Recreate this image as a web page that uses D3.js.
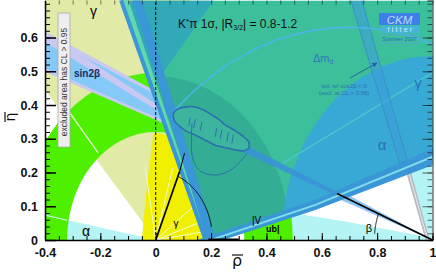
<!DOCTYPE html>
<html><head><meta charset="utf-8">
<script src="https://cdn.jsdelivr.net/npm/d3@7/dist/d3.min.js"></script>
<style>html,body{margin:0;padding:0;background:#fff}svg{display:block}</style>
</head><body>
<svg id="chart" width="436" height="273"></svg>
<script>
// ---------------- axes ----------------
const xDomain = [-0.4, 1.0];
const yDomain = [0, 0.71];
const xTickValues = [-0.4, -0.2, 0, 0.2, 0.4, 0.6, 0.8, 1];
const xTickLabels = ["-0.4", "-0.2", "0", "0.2", "0.4", "0.6", "0.8", "1"];
const yTickValues = [0, 0.1, 0.2, 0.3, 0.4, 0.5, 0.6];
const yTickLabels = ["0", "0.1", "0.2", "0.3", "0.4", "0.5", "0.6"];

// ---------------- constraints (rho-bar, eta-bar) ----------------
const gammaWedgeDeg = [80, 132];
const alphaLeftWedgeDeg = [169.5, 180];
const alphaRightRegion = [[0.45,0],[1,0],[1,0.33],[0.45,0.33]];
const alphaRightHole = [[0.5,0.079],[0.905,0.215],[0.985,0.008],[0.69,0.054]];
const vubRingR = [0.32, 0.495];
const epsKRegion = [[-0.05,0],[-0.032,0.158],[-0.008,0.318],[0.07,0.31],[0.21,0]];
const sin2bOuterDeg = [19.6, 23.8];
const sin2bInnerDeg = [20.0, 23.3];
const sin2bCoreDeg = [20.8, 22.6];
const lavenderStripe = [[-0.4,0.617],[0.05,0.377],[0.05,0.362],[-0.4,0.586]];
const kpiEdgeLine = [[-0.125,0.71],[0.18,0]];
const kpiLightStripe = [[-0.125,0.71],[-0.098,0.71],[0.19,0],[0.18,0]];
const kpiThickBand = [[-0.083,0.71],[-0.05,0.71],[0.217,0],[0.185,0]];
const risingUpper = [[0.15,0],[0.577,0.119],[1.02,0.278]];
const risingLower = [[1.02,0.228],[0.577,0.089],[0.243,0]];
const risingMid = [[0.2,0],[0.577,0.104],[1.02,0.253]];
const kpiWedge = [[0.18,0],[-0.125,0.71],[1.05,0.71],[1.05,0.26],[0.577,0.104],[0.2,0]];
const kpiTopLeft = [[-0.125,0.71],[0.21,0.71],[0.016,0.484],[-0.028,0.484]];
const darkDiskR = 0.485;
const blueCircleC = [1, 0];
const blueCircleR = 0.545;
const gammaLine = [[0.43,0.213],[1.0,0.496]];
const rightBand = [[0.705,0.71],[0.745,0.71],[0.99,0],[0.965,0]];
const grayBand = [[0.9,0.215],[0.918,0.215],[0.99,0],[0.975,0]];
const dmdArcC = [0.70, -0.30];
const dmdArcR = 0.93;
const dmdArcDeg = [133, 55];
const fitContour = [[0.064,0.375],[0.077,0.387],[0.100,0.393],[0.137,0.395],[0.173,0.385],[0.203,0.370],
  [0.227,0.358],[0.251,0.341],[0.287,0.324],[0.317,0.306],[0.336,0.291],[0.336,0.272],[0.317,0.264],
  [0.287,0.267],[0.245,0.275],[0.215,0.281],[0.191,0.291],[0.167,0.301],[0.143,0.311],[0.113,0.321],
  [0.088,0.336],[0.070,0.350],[0.064,0.365]];
const fitHatchX = [0.125,0.143,0.167,0.221,0.239,0.263,0.281];
const fitArc = [[0.131,0.346],[0.125,0.237],[0.161,0.198],[0.221,0.188],[0.281,0.207],[0.330,0.257]];
const triangleLeft = [[0,0],[0.086,0.202]];
const triangleLeftThin = [[0.086,0.202],[0.104,0.257]];
const triangleRight = [[1,0],[0.655,0.138]];
const alphaLinesDeg = [8, 18, 36, 74, 100];
const angleArcR = 0.205, angleArcDeg = [67, 11];
const betaArcR = 0.21, betaArcDeg = [158, 175];
const alphaEdgeLine = [[-0.4,0.0735],[-0.32,0.0585]];
const gammaEdgeLine = [[-0.317,0.385],[-0.208,0.258]];

// ---------------- setup ----------------
const svg = d3.select("#chart");
const L = 45, R = 432.5, T = 0.4, B = 240;
const x = d3.scaleLinear().domain(xDomain).range([L, R]);
const y = d3.scaleLinear().domain(yDomain).range([B, T]);
const line = d3.line().x(d => x(d[0])).y(d => y(d[1]));
const rad = Math.PI / 180;
function arcPts(c, r, a0, a1, n = 120) {
  const p = [];
  for (let i = 0; i <= n; i++) { const t = (a0 + (a1 - a0) * i / n) * rad; p.push([c[0] + r * Math.cos(t), c[1] + r * Math.sin(t)]); }
  return p;
}
function wedge(c, a0, a1, Rr = 3) { return [c, ...arcPts(c, Rr, a0, a1)]; }
function ring(c, r0, r1, a0, a1) { return [...arcPts(c, r1, a0, a1), ...arcPts(c, r0, a1, a0)]; }

const defs = svg.append("defs");
defs.append("clipPath").attr("id", "plot").append("rect").attr("x", L).attr("y", 0).attr("width", R - L).attr("height", B);
defs.append("clipPath").attr("id", "kpi").append("path").attr("d", line(kpiWedge) + "Z");
const mk = defs.append("marker").attr("id", "arr").attr("viewBox", "0 0 10 10").attr("refX", 9).attr("refY", 5)
  .attr("markerWidth", 5).attr("markerHeight", 5).attr("orient", "auto");
mk.append("path").attr("d", "M0,0L10,5L0,10Z").attr("fill", "#2a5fa0");

svg.append("rect").attr("width", 436).attr("height", 273).attr("fill", "#fff");
const g = svg.append("g").attr("clip-path", "url(#plot)");
function poly(parent, pts, fill, op = 1) { return parent.append("path").attr("d", line(pts) + "Z").attr("fill", fill).attr("fill-opacity", op); }
function stroke(parent, pts, col, w, extra) { const p = parent.append("path").attr("d", line(pts)).attr("fill", "none").attr("stroke", col).attr("stroke-width", w); if (extra) extra(p); return p; }

// base regions
poly(g, wedge([0,0], gammaWedgeDeg[0], gammaWedgeDeg[1]), "#e1eaa6");
poly(g, wedge([0,0], alphaLeftWedgeDeg[0], alphaLeftWedgeDeg[1]), "#b4f4f4");
poly(g, alphaRightRegion, "#b4f4f4");
poly(g, alphaRightHole, "#ffffff");
poly(g, grayBand, "#b8bcc2");
stroke(g, [[0.909,0.215],[0.983,0]], "#e8eaec", 1);
poly(g, ring([0,0], vubRingR[0], vubRingR[1], 0, 180), "#4ef000");
poly(g, epsKRegion, "#f0f000");
alphaLinesDeg.forEach(a => stroke(g, [[0,0], [0.22*Math.cos(a*rad), 0.22*Math.sin(a*rad)]], "#eefcf4", 0.9));
stroke(g, alphaEdgeLine, "#c8f8f4", 1.2);
stroke(g, gammaEdgeLine, "#f4f8e0", 1.2);

// sin2beta band
poly(g, wedge([1,0], 180 - sin2bOuterDeg[1], 180 - sin2bOuterDeg[0]), "#c8c8f0");
poly(g, wedge([1,0], 180 - sin2bInnerDeg[1], 180 - sin2bInnerDeg[0]), "#84c9f8");
poly(g, lavenderStripe, "#c8c8f0");

// K*pi overlay region
const k = g.append("g").attr("clip-path", "url(#kpi)");
poly(k, kpiWedge, "#3cc09c");
poly(k, kpiTopLeft, "#31a9b6");
poly(k, arcPts([0,0], darkDiskR, 0, 180).concat([[0,0]]), "#33ad93");
poly(k, arcPts(blueCircleC, blueCircleR, 0, 180), "#38a8d4");
stroke(k, gammaLine, "#4cc4cc", 1.6);
poly(k, wedge([1,0], 180 - sin2bCoreDeg[1], 180 - sin2bCoreDeg[0]), "#3a92d6", 0.9);
poly(k, rightBand, "#3d9fd8", 0.6);
stroke(k, [rightBand[0], rightBand[3]], "#3590c8", 1);
stroke(k, [rightBand[1], rightBand[2]], "#3590c8", 1);

// bands bounding the overlay
poly(g, kpiLightStripe, "#62d6ae");
stroke(g, kpiEdgeLine, "#3a96d6", 4);
poly(g, kpiThickBand, "#3a96d6");
poly(g, risingUpper.concat(risingLower), "#3a96d6");
stroke(g, risingMid, "#80dce6", 2);

// dm_d arc
stroke(g, arcPts(dmdArcC, dmdArcR, dmdArcDeg[0], dmdArcDeg[1]), "#4cb4e8", 1.6);

// fit contour
g.append("path").attr("d", d3.line().x(d => x(d[0])).y(d => y(d[1])).curve(d3.curveCardinalClosed.tension(0.3))(fitContour))
  .attr("fill", "#3db59e").attr("stroke", "#2d6fb0").attr("stroke-width", 1.6);
fitHatchX.forEach(v => {
  const yc = 0.372 - (v - 0.064) * 0.33;
  stroke(g, [[v, yc + 0.012], [v - 0.006, yc - 0.014]], "#2d6fb0", 1);
});
stroke(g, fitArc, "#2d6fb0", 1, p => p.attr("d", d3.line().x(d => x(d[0])).y(d => y(d[1])).curve(d3.curveBasis)(fitArc)));

// unitarity triangle pieces
stroke(g, triangleLeft, "#000", 1.7);
stroke(g, triangleLeftThin, "#000", 1);
stroke(g, triangleRight, "#000", 1.7);
stroke(g, arcPts([0,0], angleArcR, angleArcDeg[0], angleArcDeg[1]), "#000", 1);
stroke(g, arcPts([1,0], betaArcR, betaArcDeg[0], betaArcDeg[1]), "#000", 1);
// rho = 0 dashed line
stroke(g, [[0,0],[0,0.71]], "#000", 1, p => p.attr("stroke-dasharray", "3,2"));
// thick base segment
stroke(g, [[0.19,0],[0.3,0]], "#000", 3);

// ---------------- labels ----------------
const txt = (xx, yy, s, o = {}) => svg.append("text").attr("x", xx).attr("y", yy).text(s)
  .attr("font-family", o.ff || "Liberation Sans, Arial, sans-serif").attr("font-size", o.fs || 12)
  .attr("font-weight", o.fw || "normal").attr("fill", o.fill || "#000").attr("text-anchor", o.anchor || "start");

txt(93.5, 16, "γ", {fs: 14, anchor: "middle"});
txt(74, 77, "sin2β", {fs: 10, fw: "bold", fill: "#1a2a60"});
txt(86, 236, "α", {fs: 14, anchor: "middle"});
txt(176, 227, "γ", {fs: 10, anchor: "middle"});
txt(369, 232, "β", {fs: 11, anchor: "middle"});
txt(382, 150, "α", {fs: 15, anchor: "middle", fill: "#2a6fb5"});
txt(418, 88, "γ", {fs: 14, anchor: "middle", fill: "#2a6fb5"});
const dm = txt(313, 62, "Δm", {fs: 11, fill: "#3274bc"});
dm.append("tspan").attr("font-size", 7).attr("dy", 2).text("d");
const vub = txt(252, 224, "|V", {fs: 10});
vub.append("tspan").attr("font-size", 9).attr("font-weight", "bold").attr("x", 266).attr("y", 232).text("ub|");

const kp = svg.append("text").attr("x", 178).attr("y", 28).attr("font-family", "Liberation Sans Narrow, Arial Narrow, Liberation Sans, sans-serif")
  .attr("font-size", 12).attr("fill", "#111");
kp.append("tspan").text("K");
kp.append("tspan").attr("font-size", 8).attr("dy", -4).text("*");
kp.append("tspan").attr("dy", 4).text("π 1σ,  |R");
kp.append("tspan").attr("font-size", 7).attr("dy", 2).text("3/2");
kp.append("tspan").attr("dy", -2).text("| = 0.8-1.2");

txt(344, 88, "sol. w/ cos2β < 0", {fs: 6, anchor: "middle", fill: "#2f6fb0"});
txt(344, 95, "(excl. at CL > 0.95)", {fs: 6, anchor: "middle", fill: "#2f6fb0"});
svg.append("line").attr("x1", 350).attr("y1", 78).attr("x2", 377).attr("y2", 63).attr("stroke", "#2a5fa0").attr("stroke-width", 1).attr("marker-end", "url(#arr)");

// CKMfitter logo
svg.append("rect").attr("x", 379).attr("y", 13).attr("width", 41).attr("height", 12).attr("fill", "#3c7fe6");
txt(399.5, 23.5, "CKM", {fs: 11.5, anchor: "middle", fill: "#c2d8ff", ff: "Liberation Sans Narrow, Liberation Sans, sans-serif"}).attr("font-style", "italic");
svg.append("rect").attr("x", 381).attr("y", 26).attr("width", 39).attr("height", 7).attr("fill", "#44b4d8");
txt(401, 32.2, "fitter", {fs: 7, anchor: "middle", fill: "#d0ecf6"}).attr("letter-spacing", 2.2);
svg.append("rect").attr("x", 379).attr("y", 35).attr("width", 41).attr("height", 8).attr("fill", "none").attr("stroke", "#5aa4dc").attr("stroke-width", 0.8);
txt(399.5, 41.3, "Summer 2007", {fs: 5.5, anchor: "middle", fill: "#2a66b6"});

// excluded-area box
svg.append("rect").attr("x", 58).attr("y", 13).attr("width", 12).attr("height", 134).attr("fill", "#eeeeee").attr("stroke", "#a8a8a8").attr("stroke-width", 0.8);
svg.append("text").attr("transform", "translate(66.8,82) rotate(-90)").attr("text-anchor", "middle")
  .attr("font-family", "Liberation Sans, Arial, sans-serif").attr("font-size", 8.5).attr("fill", "#333").text("excluded area has CL > 0.95");

// ---------------- axes ----------------
const fontAx = "Liberation Sans Narrow, Arial Narrow, Liberation Sans, sans-serif";
const gx = svg.append("g").attr("transform", `translate(0,${B})`)
  .call(d3.axisBottom(x).tickValues(xTickValues).tickFormat((d, i) => xTickLabels[i]).tickSizeInner(-7).tickSizeOuter(0).tickPadding(8));
gx.selectAll("text").attr("font-family", fontAx).attr("font-size", 12.5).attr("font-weight", "bold").attr("fill", "#111");
gx.select(".domain").attr("stroke", "#000").attr("stroke-width", 1.5);
gx.selectAll(".tick line").attr("stroke", "#000");
svg.append("g").attr("transform", `translate(0,${B})`)
  .call(d3.axisBottom(x).tickValues(d3.range(-0.4, 1.0001, 0.05)).tickFormat("").tickSize(-4))
  .call(s => s.select(".domain").remove());

const gy = svg.append("g").attr("transform", `translate(${L},0)`)
  .call(d3.axisLeft(y).tickValues(yTickValues).tickFormat((d, i) => yTickLabels[i]).tickSizeInner(-11).tickSizeOuter(0).tickPadding(7));
gy.selectAll("text").attr("font-family", fontAx).attr("font-size", 12.5).attr("font-weight", "bold").attr("fill", "#111");
gy.select(".domain").attr("stroke", "#000").attr("stroke-width", 1.5);
gy.selectAll(".tick line").attr("stroke", "#000").attr("stroke-width", 1.5);
svg.append("g").attr("transform", `translate(${L},0)`)
  .call(d3.axisLeft(y).tickValues(d3.range(0, 0.7001, 0.02)).tickFormat("").tickSize(-5))
  .call(s => s.select(".domain").remove());

svg.append("g").attr("transform", `translate(0,0.5)`).attr("opacity", 0.5)
  .call(d3.axisTop(x).tickValues(d3.range(-0.4, 1.0001, 0.05)).tickFormat("").tickSize(-4))
  .call(s => s.select(".domain").remove());
svg.append("g").attr("transform", `translate(${R},0)`).attr("opacity", 0.55)
  .call(d3.axisRight(y).tickValues(d3.range(0, 0.7001, 0.02)).tickFormat("").tickSize(-5))
  .call(s => s.select(".domain").attr("stroke-width", 1.5));
svg.append("g").attr("transform", `translate(${R},0)`).attr("opacity", 0.55)
  .call(d3.axisRight(y).tickValues(yTickValues).tickFormat("").tickSize(-10))
  .call(s => s.select(".domain").remove());

// axis titles
svg.append("text").attr("x", 237).attr("y", 266).attr("text-anchor", "middle").attr("font-family", "DejaVu Sans, sans-serif")
  .attr("font-size", 16).attr("fill", "#111").text("ρ");
svg.append("line").attr("x1", 232).attr("x2", 243).attr("y1", 255).attr("y2", 255).attr("stroke", "#111").attr("stroke-width", 1.2);
const eta = svg.append("g").attr("transform", "translate(15,117) rotate(-90)");
eta.append("text").attr("x", 0).attr("y", 0).attr("text-anchor", "middle").attr("font-family", "DejaVu Sans, sans-serif")
  .attr("font-size", 14).attr("fill", "#111").text("η");
eta.append("line").attr("x1", -5).attr("x2", 5).attr("y1", -10).attr("y2", -10).attr("stroke", "#111").attr("stroke-width", 1.2);
</script>
</body></html>
